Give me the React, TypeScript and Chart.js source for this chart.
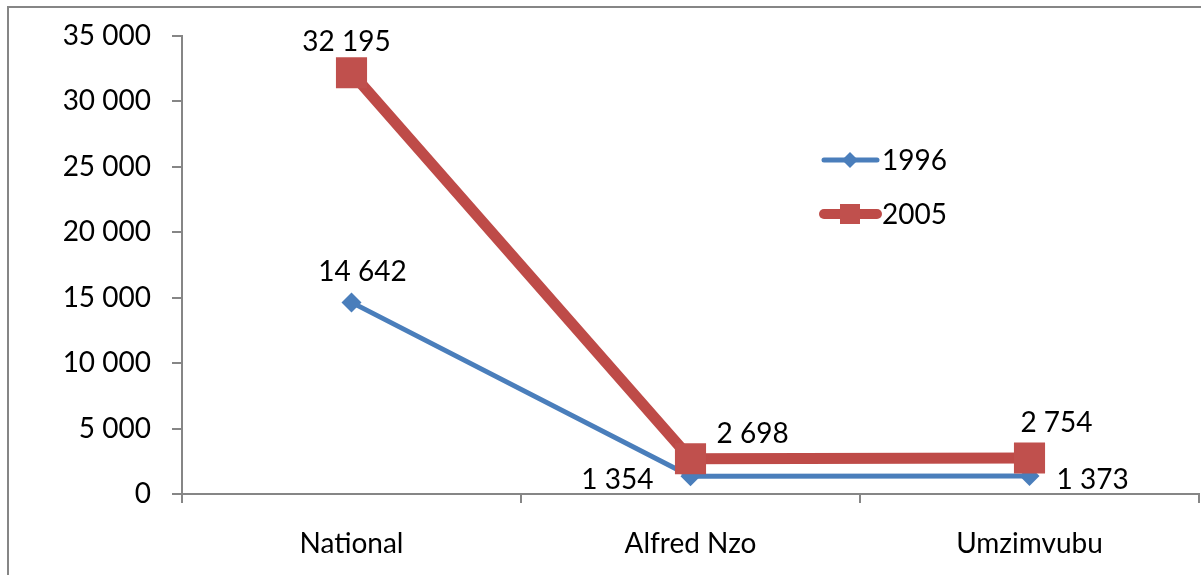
import { useEffect, useRef } from "react";
import { Chart, registerables } from "chart.js";

Chart.register(...registerables);

const categories = ["National", "Alfred Nzo", "Umzimvubu"];
const series1996 = [14642, 1354, 1373];
const series2005 = [32195, 2698, 2754];
const seriesNames = ["1996", "2005"];
const yMin = 0;
const yMax = 35000;
const yStep = 5000;

const BLUE = "#4A7EBB";
const RED = "#BE4B48";
const RED_FILL = "#C0504D";
const AXIS = "#868686";
const FONT = "Lato, 'Noto Sans', sans-serif";
const FSIZE = 28;

const fmt = (v: number) => String(Math.round(v)).replace(/\B(?=(\d{3})+(?!\d))/g, " ");

// label anchor offsets from point (dx, dy, align) per dataset / point
const labelOffsets: [number, number, CanvasTextAlign][][] = [
  [
    [11, -30, "center"],
    [-37, 4, "right"],
    [27, 4, "left"],
  ],
  [
    [-5, -31, "center"],
    [26, -25, "left"],
    [27, -35, "center"],
  ],
];

const frameAndLabels = {
  id: "frameAndLabels",
  beforeDraw(chart: any) {
    const ctx = chart.ctx;
    ctx.save();
    ctx.fillStyle = "#ffffff";
    ctx.fillRect(0, 0, chart.width, chart.height);
    ctx.fillStyle = AXIS;
    ctx.fillRect(7, 6, chart.width - 7, 2);
    ctx.fillRect(7, 6, 2, chart.height - 6);
    ctx.restore();
  },
  afterDatasetsDraw(chart: any) {
    const ctx = chart.ctx;
    ctx.save();
    ctx.font = `${FSIZE}px ${FONT}`;
    ctx.fillStyle = "#000000";
    ctx.textBaseline = "middle";
    chart.data.datasets.forEach((ds: any, di: number) => {
      const meta = chart.getDatasetMeta(di);
      meta.data.forEach((pt: any, i: number) => {
        const [dx, dy, align] = labelOffsets[di][i];
        ctx.textAlign = align;
        ctx.fillText(fmt(ds.data[i]), pt.x + dx, pt.y + dy);
      });
    });

    // legend
    const ca = chart.chartArea;
    const lx = ca.left + 640;
    const rows = [ca.top + 124, ca.top + 178];
    chart.data.datasets.forEach((ds: any, di: number) => {
      const y = rows[di];
      ctx.strokeStyle = ds.borderColor;
      ctx.lineWidth = di === 0 ? 5 : 10;
      ctx.lineCap = "round";
      ctx.beginPath();
      ctx.moveTo(lx + 2, y);
      ctx.lineTo(lx + 55, y);
      ctx.stroke();
      ctx.fillStyle = ds.pointBackgroundColor;
      if (di === 0) {
        const r = 8;
        const cx = lx + 28;
        ctx.beginPath();
        ctx.moveTo(cx - r, y);
        ctx.lineTo(cx, y - r);
        ctx.lineTo(cx + r, y);
        ctx.lineTo(cx, y + r);
        ctx.closePath();
        ctx.fill();
      } else {
        const s = 10;
        const cx = lx + 28;
        ctx.fillRect(cx - s, y - s, 2 * s, 2 * s);
      }
      ctx.fillStyle = "#000000";
      ctx.textAlign = "left";
      ctx.fillText(ds.label, lx + 60, y + 1);
    });
    ctx.restore();
  },
};

export default function App() {
  const ref = useRef<HTMLCanvasElement | null>(null);

  useEffect(() => {
    if (!ref.current) return;
    const chart = new Chart(ref.current, {
      type: "line",
      data: {
        labels: categories,
        datasets: [
          {
            label: seriesNames[0],
            data: series1996,
            borderColor: BLUE,
            backgroundColor: BLUE,
            pointBackgroundColor: BLUE,
            pointBorderColor: BLUE,
            borderWidth: 5,
            pointStyle: "rectRot",
            pointRadius: 10,
            pointBorderWidth: 0,
            pointHoverRadius: 10,
            order: 1,
            clip: false as any,
          },
          {
            label: seriesNames[1],
            data: series2005,
            borderColor: RED,
            backgroundColor: RED,
            pointBackgroundColor: RED_FILL,
            pointBorderColor: RED_FILL,
            borderWidth: 11,
            pointStyle: "rect",
            pointRadius: 22,
            pointBorderWidth: 0,
            pointHoverRadius: 22,
            order: 0,
            clip: false as any,
          },
        ],
      },
      options: {
        responsive: false,
        animation: false,
        layout: { autoPadding: false, padding: { left: 0, top: 36, right: 2, bottom: 0 } },
        plugins: {
          legend: { display: false },
          tooltip: { enabled: false },
        },
        scales: {
          x: {
            type: "category",
            offset: true,
            grid: {
              offset: true,
              drawOnChartArea: false,
              drawTicks: true,
              tickLength: 9,
              color: AXIS,
              lineWidth: 2,
            },
            border: { display: true, color: AXIS, width: 2 },
            ticks: {
              color: "#000000",
              font: { family: FONT, size: FSIZE },
              padding: 24,
              maxRotation: 0,
            },
            afterFit(scale: any) {
              scale.height = 81;
              scale.paddingLeft = 0;
              scale.paddingRight = 0;
            },
          },
          y: {
            min: yMin,
            max: yMax,
            grid: {
              drawOnChartArea: false,
              drawTicks: true,
              tickLength: 10,
              color: AXIS,
              lineWidth: 2,
            },
            border: { display: true, color: AXIS, width: 2 },
            ticks: {
              stepSize: yStep,
              color: "#000000",
              font: { family: FONT, size: FSIZE },
              padding: 21,
              callback: (v: any) => fmt(Number(v)),
            },
            afterFit(scale: any) {
              scale.width = 182;
              scale.paddingTop = 0;
              scale.paddingBottom = 0;
            },
          },
        },
      },
      plugins: [frameAndLabels],
    });
    return () => chart.destroy();
  }, []);

  return (
    <canvas
      ref={ref}
      width={1201}
      height={575}
      style={{ position: "absolute", left: 0, top: 0, width: 1201, height: 575 }}
    />
  );
}
